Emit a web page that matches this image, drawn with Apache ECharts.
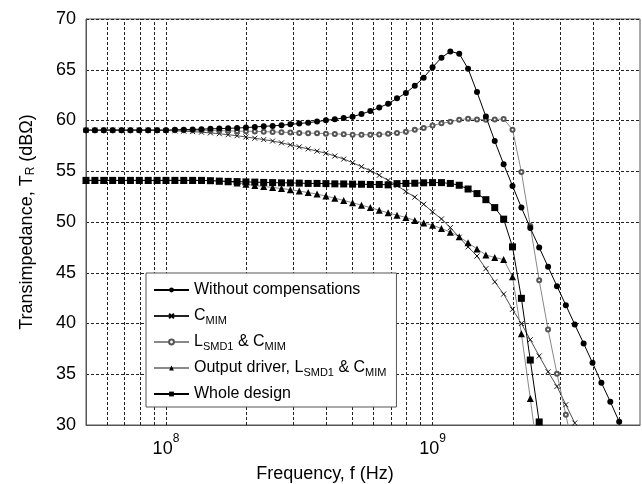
<!DOCTYPE html>
<html>
<head>
<meta charset="utf-8">
<script src="https://cdn.jsdelivr.net/npm/echarts@6/dist/echarts.min.js"></script>
<style>html,body{margin:0;padding:0;background:#fff;}#chart{width:642px;height:484px;}</style>
</head>
<body>
<div id="chart"></div>
<script>
// Frequency points (Hz)
const freqHz = [5.012e7, 5.412e7, 5.843e7, 6.310e7, 6.813e7, 7.356e7, 7.943e7, 8.577e7, 9.261e7, 1.000e8,
  1.080e8, 1.166e8, 1.259e8, 1.359e8, 1.468e8, 1.585e8, 1.711e8, 1.848e8, 1.995e8, 2.154e8,
  2.326e8, 2.512e8, 2.712e8, 2.929e8, 3.162e8, 3.415e8, 3.687e8, 3.981e8, 4.299e8, 4.642e8,
  5.012e8, 5.412e8, 5.843e8, 6.310e8, 6.813e8, 7.356e8, 7.943e8, 8.577e8, 9.261e8, 1.000e9,
  1.080e9, 1.166e9, 1.259e9, 1.359e9, 1.468e9, 1.585e9, 1.711e9, 1.848e9, 1.995e9, 2.154e9,
  2.326e9, 2.512e9, 2.712e9, 2.929e9, 3.162e9, 3.415e9, 3.687e9, 3.981e9, 4.299e9, 4.642e9, 5.012e9];

const seriesNames = ['Without compensations', 'C_MIM', 'L_SMD1 & C_MIM', 'Output driver, L_SMD1 & C_MIM', 'Whole design'];

const withoutComp = [59.05, 59.05, 59.05, 59.05, 59.05, 59.05, 59.05, 59.05, 59.05, 59.05,
  59.08, 59.10, 59.12, 59.15, 59.18, 59.20, 59.23, 59.26, 59.30, 59.36,
  59.43, 59.47, 59.53, 59.62, 59.70, 59.79, 59.89, 60.02, 60.12, 60.25,
  60.38, 60.64, 60.93, 61.27, 61.66, 62.18, 62.71, 63.43, 64.22, 65.24,
  66.19, 66.81, 66.58, 65.10, 62.80, 60.40, 57.98, 55.69, 53.55, 51.43,
  49.40, 47.50, 45.58, 43.68, 41.81, 39.90, 38.04, 36.13, 34.16, 32.30, 30.33];

const cMim = [59.05, 59.05, 59.05, 59.05, 59.05, 59.05, 59.05, 59.05, 59.05, 59.02,
  58.98, 58.95, 58.90, 58.85, 58.78, 58.70, 58.60, 58.50, 58.38, 58.25,
  58.12, 57.98, 57.80, 57.60, 57.40, 57.20, 56.98, 56.78, 56.50, 56.20,
  55.85, 55.45, 55.05, 54.60, 54.10, 53.60, 53.00, 52.45, 51.75, 51.00,
  50.30, 49.45, 48.50, 47.55, 46.65, 45.40, 44.10, 42.90, 41.40, 40.00,
  38.40, 36.80, 35.25, 33.80, 32.00, 30.20];

const lSmdCMim = [59.05, 59.05, 59.05, 59.05, 59.05, 59.05, 59.05, 59.05, 59.05, 59.05,
  59.05, 59.05, 59.05, 59.02, 59.00, 59.00, 58.98, 58.95, 58.95, 58.92,
  58.90, 58.87, 58.85, 58.82, 58.78, 58.75, 58.75, 58.70, 58.67, 58.65,
  58.60, 58.60, 58.60, 58.62, 58.70, 58.78, 58.88, 59.08, 59.26, 59.50,
  59.72, 59.87, 60.08, 60.18, 60.10, 60.08, 60.10, 60.15, 59.10, 54.93,
  49.60, 44.25, 39.40, 35.05, 31.00, 27.00];

const outputDriver = [54.10, 54.10, 54.10, 54.10, 54.10, 54.10, 54.10, 54.10, 54.10, 54.10,
  54.10, 54.10, 54.10, 54.10, 54.10, 54.05, 53.97, 53.85, 53.72, 53.60,
  53.50, 53.40, 53.30, 53.18, 53.05, 52.90, 52.75, 52.55, 52.35, 52.12,
  51.90, 51.66, 51.42, 51.16, 50.90, 50.67, 50.45, 50.15, 49.90, 49.68,
  49.36, 49.00, 48.55, 47.95, 47.35, 46.75, 46.50, 46.30, 44.60, 39.00,
  32.60, 26.00];

const wholeDesign = [54.10, 54.10, 54.10, 54.10, 54.10, 54.10, 54.10, 54.10, 54.10, 54.10,
  54.10, 54.10, 54.10, 54.10, 54.07, 54.03, 54.00, 53.98, 53.95, 53.93,
  53.90, 53.88, 53.86, 53.85, 53.83, 53.80, 53.80, 53.78, 53.76, 53.75,
  53.73, 53.72, 53.70, 53.70, 53.66, 53.78, 53.80, 53.82, 53.86, 53.88,
  53.88, 53.80, 53.62, 53.25, 52.80, 52.20, 51.42, 50.28, 47.55, 42.48,
  36.40, 30.30];

const yTicks = [30, 35, 40, 45, 50, 55, 60, 65, 70];
const xGridFreqs = [6e7, 7e7, 8e7, 9e7, 1e8, 2e8, 3e8, 4e8, 5e8, 6e8, 7e8, 8e8, 9e8, 1e9, 2e9, 3e9, 4e9, 5e9];

const FONT = '"Liberation Sans", Arial, Helvetica, sans-serif';
function pairs(vals) { return vals.map((v, i) => [freqHz[i], v]); }

const chart = echarts.init(document.getElementById('chart'), null, { renderer: 'canvas' });

const gridLineStyle = { color: '#222', width: 1, type: [3, 2] };

const option = {
  animation: false,
  backgroundColor: '#fff',
  grid: { left: 86, top: 19, width: 554, height: 406, containLabel: false, outerBoundsMode: 'none',
    show: true, borderColor: '#555', borderWidth: 1, backgroundColor: 'transparent' },
  legend: {
    data: seriesNames,
    orient: 'vertical',
    left: 146, top: 273,
    itemWidth: 35, itemHeight: 6, itemGap: 4,
    padding: [6, 10, 2, 7],
    borderColor: '#555', borderWidth: 1, backgroundColor: '#fff',
    selectedMode: false,
    formatter: name => name.replace(/_([A-Za-z0-9]+)/g, '{s|$1}'),
    textStyle: {
      fontFamily: FONT, fontSize: 16, color: '#000', lineHeight: 22,
      rich: { s: { fontFamily: FONT, fontSize: 11, lineHeight: 11, color: '#000', padding: [9, 0, 0, 0] } }
    }
  },
  xAxis: {
    type: 'log', logBase: 10, min: 5.012e7, max: 6e9,
    name: 'Frequency, f (Hz)', nameLocation: 'middle', nameGap: 40, nameMoveOverlap: false,
    nameTextStyle: { fontFamily: FONT, fontSize: 18, color: '#000', padding: [0, 76, 0, 0] },
    axisLine: { show: true, lineStyle: { color: '#555' } },
    axisTick: { show: false },
    splitLine: { show: false },
    axisLabel: {
      margin: 14, color: '#000', fontFamily: FONT, fontSize: 18, lineHeight: 20,
      showMinLabel: false, showMaxLabel: false,
      formatter: v => {
        const e = Math.log10(v); const r = Math.round(e);
        if (Math.abs(e - r) > 1e-6) return '';
        return '10{sup|' + r + '}';
      },
      rich: { sup: { fontFamily: FONT, fontSize: 12, lineHeight: 12, color: '#000', padding: [0, 0, 20, 0] } }
    }
  },
  yAxis: {
    type: 'value', min: yTicks[0], max: yTicks[yTicks.length - 1], interval: 5,
    name: 'Transimpedance, T{sub|R} (dBΩ)', nameLocation: 'middle', nameGap: 50, nameRotate: 90,
    nameTextStyle: {
      fontFamily: FONT, fontSize: 18, color: '#000',
      rich: { sub: { fontFamily: FONT, fontSize: 12, lineHeight: 12, color: '#000', padding: [8, 0, 0, 0] } }
    },
    axisLine: { show: true, lineStyle: { color: '#555' } },
    axisTick: { show: false },
    splitLine: { show: true, lineStyle: gridLineStyle },
    axisLabel: { margin: 10, color: '#000', fontFamily: FONT, fontSize: 18 }
  },
  series: [
    {
      name: seriesNames[0], type: 'line', data: pairs(withoutComp),
      symbol: 'circle', symbolSize: 6, z: 5,
      lineStyle: { color: '#000', width: 1 }, itemStyle: { color: '#000' },
      markLine: {
        silent: true, symbol: ['none', 'none'], label: { show: false }, z: 1,
        lineStyle: gridLineStyle,
        data: xGridFreqs.map(f => ({ xAxis: f }))
      }
    },
    {
      name: seriesNames[1], type: 'line', data: pairs(cMim),
      symbol: 'path://M0,0L10,10M0,10L10,0', symbolSize: 5, z: 4,
      lineStyle: { color: '#222', width: 0.8 }, itemStyle: { color: '#000', borderColor: '#000', borderWidth: 0.9 }
    },
    {
      name: seriesNames[2], type: 'line', data: pairs(lSmdCMim),
      symbol: 'emptyCircle', symbolSize: 4, z: 4,
      lineStyle: { color: '#888', width: 1 }, itemStyle: { color: '#555', borderColor: '#555', borderWidth: 0.8 }
    },
    {
      name: seriesNames[3], type: 'line', data: pairs(outputDriver),
      symbol: 'triangle', symbolSize: 7, z: 4,
      lineStyle: { color: '#888', width: 1 }, itemStyle: { color: '#000' }
    },
    {
      name: seriesNames[4], type: 'line', data: pairs(wholeDesign),
      symbol: 'rect', symbolSize: 7, z: 4,
      lineStyle: { color: '#000', width: 1 }, itemStyle: { color: '#000' }
    }
  ]
};
chart.setOption(option);
</script>
</body>
</html>
